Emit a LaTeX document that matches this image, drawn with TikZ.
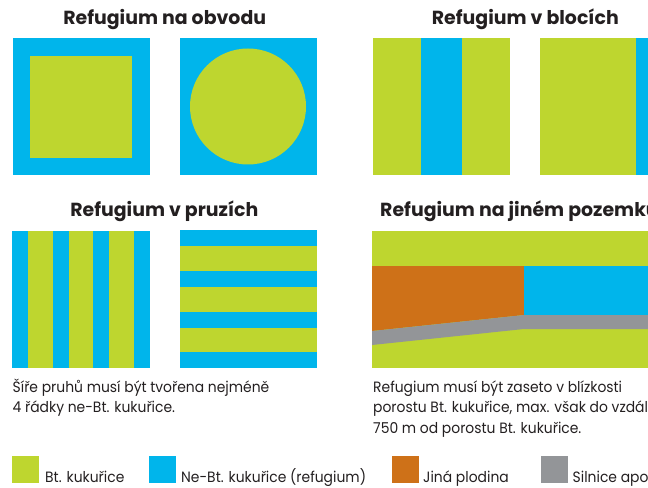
\documentclass[tikz,border=0pt]{standalone}
\usepackage{fontspec}
\setmainfont{Poppins}
\newfontfamily\bodyfont{Poppins}[FakeStretch=0.93]
\definecolor{btgreen}{HTML}{BED62F}
\definecolor{refblue}{HTML}{00B5EB}
\definecolor{cropor}{HTML}{CE7118}
\definecolor{roadgray}{HTML}{939598}
\definecolor{ink}{HTML}{231F20}
\begin{document}
\begin{tikzpicture}[x=1bp,y=-1bp,
  title/.style={font=\bfseries\fontsize{19}{22}\selectfont, text=ink, inner sep=0pt, anchor=base},
  body/.style={font=\bodyfont\fontsize{15}{20}\selectfont, text=ink, inner sep=0pt, anchor=base west},
  legtext/.style={font=\bodyfont\fontsize{15}{18}\selectfont, text=ink, inner sep=0pt, anchor=base west}]
\useasboundingbox (0,0) rectangle (648,488);
\clip (0,0) rectangle (648,488);
% Panel 1: Refugium na obvodu
\node[title] (t1) at (164.7,25) {Refugium na obvodu};
\fill[refblue] (13,38) rectangle (150,175);
\fill[btgreen] (30,56) rectangle (132,158);
\fill[refblue] (180,38) rectangle (317,175);
\fill[btgreen] (248,106.5) circle (58bp);
% Panel 2: Refugium v blocich
\node[title] (t2) at (525.3,25) {Refugium v blocích};
\fill[btgreen] (373,38) rectangle (510,175);
\fill[refblue] (421,38) rectangle (462,175);
\fill[btgreen] (540,38) rectangle (660,175);
\fill[refblue] (636,38) rectangle (660,175);
% Panel 3: Refugium v pruzich
\node[title] (t3) at (164.3,216.7) {Refugium v pruzích};
\fill[refblue] (12,231) rectangle (150,368);
\foreach \a/\b in {28/53, 69/93, 109/134}
  \fill[btgreen] (\a,231) rectangle (\b,368);
\fill[refblue] (180,230) rectangle (317,368);
\foreach \a/\b in {246/271, 287/312, 328/352}
  \fill[btgreen] (180,\a) rectangle (317,\b);
\node[body] (d1) at (12.5,392.7) {Šíře pruhů musí být tvořena nejméně};
\node[body] (d2) at (12.5,412.7) {4 řádky ne-Bt. kukuřice.};
% Panel 4: Refugium na jinem pozemku
\node[title, anchor=base west] (t4) at (380,216.7) {Refugium na jiném pozemku};
\fill[btgreen] (372,231) rectangle (660,368);
\fill[cropor] (372,266) -- (524,266) -- (524,315) -- (372,331) -- cycle;
\fill[refblue] (524,266) rectangle (660,315);
\fill[roadgray] (372,331) -- (524,315) -- (660,315) -- (660,329) -- (524,329) -- (372,345) -- cycle;
\node[body] (e1) at (373,392.3) {Refugium musí být zaseto v blízkosti};
\node[body] (e2) at (373,412.7) {porostu Bt. kukuřice, max. však do vzdálenosti};
\node[body] (e3) at (373,433.3) {750 m od porostu Bt. kukuřice.};
% Legend
\fill[btgreen] (12.3,456) rectangle (39,483);
\node[legtext] (l1) at (45,482.7) {Bt. kukuřice};
\fill[refblue] (149,456) rectangle (175.7,483);
\node[legtext] (l2) at (181,482.7) {Ne-Bt. kukuřice (refugium)};
\fill[cropor] (392,456) rectangle (418.8,483);
\node[legtext] (l3) at (423,482.7) {Jiná plodina};
\fill[roadgray] (541,456) rectangle (567.5,483);
\node[legtext] (l4) at (572.5,482.7) {Silnice apod.};
\end{tikzpicture}
\end{document}
